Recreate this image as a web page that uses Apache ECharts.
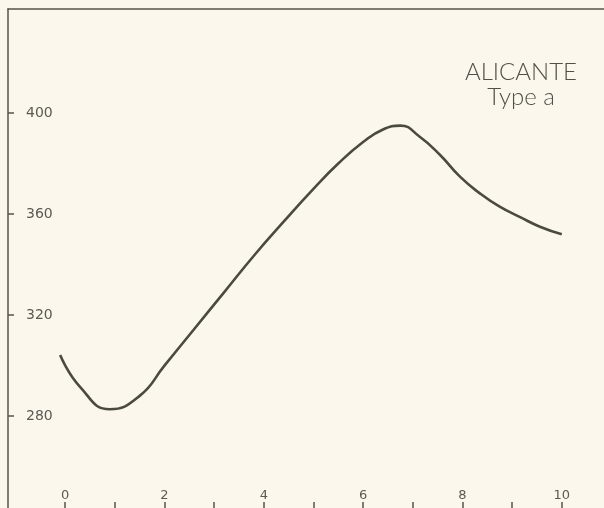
<!DOCTYPE html>
<html>
<head>
<meta charset="utf-8">
<script src="https://cdn.jsdelivr.net/npm/echarts@6/dist/echarts.min.js"></script>
<style>
  html, body { margin: 0; padding: 0; background: #fcf7ec; }
  #chart { width: 604px; height: 508px; }
</style>
</head>
<body>
<div id="chart"></div>
<script>
// values
const xValues = [-0.1, 0.3, 0.9, 1.5, 2.0, 2.6, 3.2, 3.8, 4.4, 5.0, 5.5, 6.0, 6.4, 6.75, 7.14, 7.55, 7.95, 8.35, 8.75, 9.15, 9.56, 10]
const yValues = [304.2, 291.6, 282.7, 288, 300, 314.5, 329, 343.5, 357, 370, 380, 388.5, 393.5, 395, 390.6, 383.4, 374.8, 368.2, 362.9, 358.9, 355, 352]
const xTicks = [0, 1, 2, 3, 4, 5, 6, 7, 8, 9, 10]
const xLabels = [0, 2, 4, 6, 8, 10]
const yTicks = [280, 320, 360, 400]
const title = ['ALICANTE', 'Type a']

const ink = '#55554a'
const chart = echarts.init(document.getElementById('chart'))

const option = {
  backgroundColor: '#fcf7ec',
  animation: false,
  title: {
    text: title.join('\n'),
    left: 516,
    top: 55,
    textAlign: 'center',
    textStyle: {
      fontFamily: 'Lato',
      fontWeight: 300,
      fontSize: 24,
      lineHeight: 25,
      letterSpacing: 4,
      color: '#505048'
    }
  },
  grid: { left: 8, right: 0, top: 9, bottom: 0 },
  xAxis: [
    {
      type: 'value',
      position: 'bottom',
      min: -1.15,
      max: 10.85,
      axisLine: { show: false, onZero: false },
      splitLine: { show: false },
      axisTick: {
        show: true,
        inside: true,
        length: 6,
        customValues: xTicks,
        lineStyle: { color: ink, width: 1.5 }
      },
      axisLabel: {
        inside: true,
        margin: 6,
        customValues: xLabels,
        color: '#5a5a52',
        fontFamily: 'DejaVu Sans',
        fontSize: 13
      }
    },
    {
      type: 'value',
      position: 'top',
      min: -1.15,
      max: 10.85,
      axisLine: { show: true, onZero: false, lineStyle: { color: ink, width: 1.5 } },
      axisTick: { show: false },
      axisLabel: { show: false },
      splitLine: { show: false }
    }
  ],
  yAxis: {
    type: 'value',
    min: 243.6,
    max: 441.2,
    axisLine: { show: true, onZero: false, lineStyle: { color: ink, width: 1.5 } },
    splitLine: { show: false },
    axisTick: {
      show: true,
      inside: true,
      length: 6,
      customValues: yTicks,
      lineStyle: { color: ink, width: 1.5 }
    },
    axisLabel: {
      inside: true,
      margin: 18,
      customValues: yTicks,
      color: '#5a5a52',
      fontFamily: 'DejaVu Sans',
      fontSize: 14,
      letterSpacing: 1
    }
  },
  series: [
    {
      type: 'line',
      data: xValues.map((x, i) => [x, yValues[i]]),
      smooth: 0.5,
      showSymbol: false,
      lineStyle: { color: '#4a4a3e', width: 2.6 }
    }
  ]
}
chart.setOption(option)
</script>
</body>
</html>
